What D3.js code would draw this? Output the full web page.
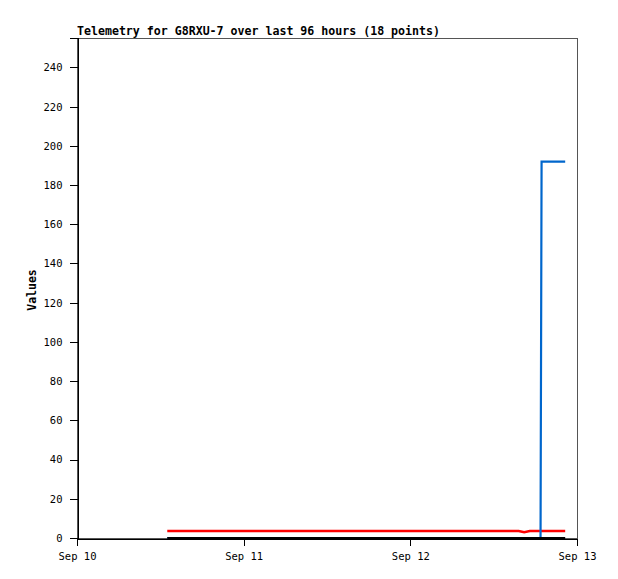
<!DOCTYPE html>
<html><head><meta charset="utf-8">
<script src="https://cdn.jsdelivr.net/npm/d3@7"></script>
<style>body{margin:0;background:#fff}svg{display:block}text{font-family:"DejaVu Sans Mono",monospace}</style>
</head><body><div id="chart"></div>
<script>
// hours after Sep 10 00:00
const hours = [13.0,17.5,22,26.5,31,35.5,40,44.5,49,53.5,58,63.6,64.4,65.2,66.75,66.9,68.6,70.3];
const redValues   = [3.6,3.6,3.6,3.6,3.6,3.6,3.6,3.6,3.6,3.6,3.6,3.6,3.0,3.6,3.6,3.6,3.6,3.6];
const blueValues  = [0,0,0,0,0,0,0,0,0,0,0,0,0,0,0,192,192,192];
const blackValues = [0,0,0,0,0,0,0,0,0,0,0,0,0,0,0,0,0,0];
const yTicks = [0,20,40,60,80,100,120,140,160,180,200,220,240];
const xTickLabels = ["Sep 10","Sep 11","Sep 12","Sep 13"];
const title = "Telemetry for G8RXU-7 over last 96 hours (18 points)";

const W=618,H=579, L=77,R=577,T=38,B=538;
const svg=d3.select("#chart").append("svg").attr("width",W).attr("height",H);
const t0=new Date(2023,8,10,0,0);
const dates=hours.map(h=>new Date(t0.getTime()+h*3600e3));
const x=d3.scaleTime().domain([t0,new Date(2023,8,13,0,0)]).range([L,R]);
const y=d3.scaleLinear().domain([0,255]).range([B,T]);

// frame
svg.append("rect").attr("x",L+0.5).attr("y",T+0.5).attr("width",R-L).attr("height",B-T)
  .attr("fill","none").attr("stroke","#555").attr("stroke-width",1).attr("shape-rendering","crispEdges");

// y axis
const ya=svg.append("g").attr("transform",`translate(${L+0.5},0)`)
  .call(d3.axisLeft(y).tickValues(yTicks).tickSize(8).tickPadding(7));
ya.select(".domain").attr("stroke","#000");
ya.selectAll(".tick line").attr("stroke","#000");
ya.selectAll("text").attr("font-size","10.5px").attr("fill","#000").attr("font-family","DejaVu Sans Mono");
ya.attr("shape-rendering","crispEdges");

// x axis
const xa=svg.append("g").attr("transform",`translate(0,${B+0.5})`)
  .call(d3.axisBottom(x).ticks(d3.timeDay.every(1)).tickFormat((d,i)=>xTickLabels[i]).tickSize(7).tickPadding(7));
xa.select(".domain").attr("stroke","#000");
xa.selectAll(".tick line").attr("stroke","#000");
xa.selectAll("text").attr("font-size","10.5px").attr("fill","#000").attr("font-family","DejaVu Sans Mono");
xa.attr("shape-rendering","crispEdges");

const line=vals=>d3.line().x((d,i)=>x(dates[i])).y(d=>y(d))(vals);
function draw(vals,color,w){
  svg.append("path").attr("d",line(vals)).attr("fill","none").attr("stroke",color)
    .attr("stroke-width",w);
}
draw(redValues,"#ff0000",2.5);
draw(blueValues,"#0066cc",2.2);
draw(blackValues,"#000000",2);

svg.append("text").attr("x",L).attr("y",35).attr("font-size","11.6px").attr("font-weight","bold").text(title);
svg.append("text").attr("transform",`translate(36,${(T+B)/2+2}) rotate(-90)`).attr("text-anchor","middle")
  .attr("font-size","11.5px").attr("font-weight","bold").text("Values");
</script></body></html>
